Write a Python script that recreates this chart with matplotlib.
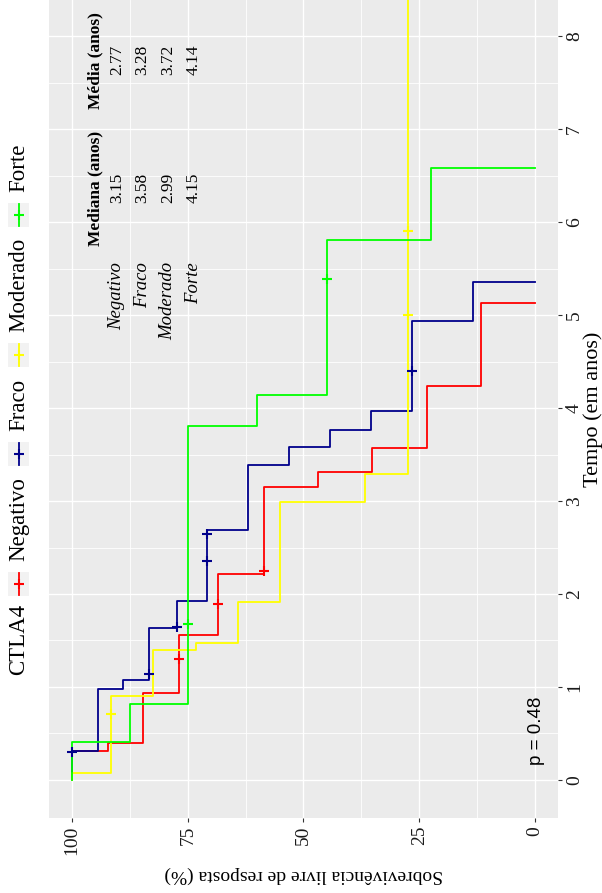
import matplotlib
matplotlib.use("Agg")
import matplotlib.pyplot as plt
from matplotlib.patches import Rectangle

plt.rcParams['font.family'] = ['Liberation Serif', 'DejaVu Serif']

# grupos de CTLA4 e cores das curvas
grupos = ["Negativo", "Fraco", "Moderado", "Forte"]
cores = ["#FF0000", "#00008B", "#FFFF00", "#00FF00"]

# curvas de Kaplan-Meier (tempo em anos, sobrevivência em %)
neg_tempo = [0, 0.315, 0.40, 0.94, 1.56, 2.22, 3.15, 3.31, 3.57, 4.24, 5.13]
neg_surv = [100, 92.3, 84.6, 76.9, 68.4, 58.6, 46.9, 35.2, 23.4, 11.7, 0]
neg_cens_t = [1.30, 1.89, 2.25]
neg_cens_s = [76.9, 68.4, 58.6]

fra_tempo = [0, 0.31, 0.975, 1.075, 1.63, 1.92, 2.69, 3.39, 3.58, 3.76, 3.97, 4.94, 5.36]
fra_surv = [100, 94.4, 88.9, 83.3, 77.4, 70.9, 62.0, 53.2, 44.3, 35.5, 26.6, 13.3, 0]
fra_cens_t = [0.30, 1.14, 1.65, 2.36, 2.65, 4.40]
fra_cens_s = [100, 83.3, 77.4, 70.9, 70.9, 26.6]

mod_tempo = [0, 0.07, 0.90, 1.40, 1.47, 1.91, 2.99, 3.29, 9.0]
mod_surv = [100, 91.7, 82.5, 73.3, 64.2, 55.0, 36.7, 27.5, 27.5]
mod_cens_t = [0.71, 5.0, 5.9]
mod_cens_s = [91.7, 27.5, 27.5]

for_tempo = [0, 0.41, 0.82, 3.81, 4.14, 5.81, 6.58]
for_surv = [100, 87.5, 75, 60, 45, 22.5, 0]
for_cens_t = [1.68, 5.39]
for_cens_s = [75, 45]

# tabela de mediana e média
medianas = ["3.15", "3.58", "2.99", "4.15"]
medias = ["2.77", "3.28", "3.72", "4.14"]

surv_ticks = [100, 75, 50, 25, 0]
tempo_ticks = [0, 1, 2, 3, 4, 5, 6, 7, 8]

W, H = 602, 893
fig = plt.figure(figsize=(W / 100, H / 100), dpi=100)
ax = fig.add_axes([49 / W, 75 / H, 509 / W, 818 / H])
ax.set_facecolor("#EBEBEB")
for s in ax.spines.values():
    s.set_visible(False)

curvas = [
    (neg_tempo, neg_surv, neg_cens_t, neg_cens_s),
    (fra_tempo, fra_surv, fra_cens_t, fra_cens_s),
    (mod_tempo, mod_surv, mod_cens_t, mod_cens_s),
    (for_tempo, for_surv, for_cens_t, for_cens_s),
]
for (t, s, ct, cs), cor in zip(curvas, cores):
    ax.step(s, t, where="pre", color=cor, lw=1.3, zorder=3)
    ax.plot(cs, ct, ls="none", marker="+", ms=7.5, mew=1.5, color=cor, zorder=4)

ax.set_xlim(105, -5)
ax.set_ylim(-0.41, 8.39)
ax.set_xticks(surv_ticks)
ax.set_xticks([87.5, 62.5, 37.5, 12.5], minor=True)
ax.set_yticks(tempo_ticks)
ax.set_yticks([t + 0.5 for t in tempo_ticks[:-1]], minor=True)
ax.set_xticklabels([str(v) for v in surv_ticks], rotation=90)
ax.set_yticklabels([str(v) for v in tempo_ticks], rotation=90, va="center")
ax.yaxis.tick_right()
ax.grid(which="major", color="white", lw=1.0, zorder=0)
ax.grid(which="minor", color="white", lw=0.6, zorder=0)
ax.tick_params(which="major", length=2.7, width=0.8, color="#333333",
               labelsize=14, labelcolor="#1A1A1A", pad=3)
ax.tick_params(which="minor", length=0)
ax.set_axisbelow(True)

# tabela dentro do painel
linhas_s = [90.3, 84.8, 79.3, 73.8]
ax.text(95.0, 6.36, "Mediana (anos)", rotation=90, ha="center", va="center",
        fontsize=12.5, fontweight="bold")
ax.text(95.0, 7.74, "Média (anos)", rotation=90, ha="center", va="center",
        fontsize=12.5, fontweight="bold")
for g, med, mea, s in zip(grupos, medianas, medias, linhas_s):
    ax.text(s, 5.57, g, rotation=90, ha="center", va="top",
            fontsize=13.5, style="italic")
    ax.text(s, 6.37, med, rotation=90, ha="center", va="center", fontsize=12.5)
    ax.text(s, 7.75, mea, rotation=90, ha="center", va="center", fontsize=12.5)

ax.text(-0.4, 0.16, "p = 0.48", rotation=90, ha="center", va="bottom",
        fontsize=13.5, family=["Liberation Sans", "DejaVu Sans"])

# títulos dos eixos
fig.text(593 / W, 1 - 409 / H, "Tempo (em anos)", rotation=90,
         ha="center", va="center", fontsize=16)
fig.text(304 / W, 1 - 875 / H, "Sobrevivência livre de resposta (%)",
         rotation=180, ha="center", va="center", fontsize=14)

# legenda
lax = fig.add_axes([0, 0, 1, 1])
lax.set_xlim(0, W)
lax.set_ylim(H, 0)
lax.axis("off")
lax.text(19, 675, "CTLA4", rotation=90, ha="center", va="bottom", fontsize=16.5)
centros = [584, 454, 355, 215]
for g, cor, c in zip(grupos, cores, centros):
    lax.add_patch(Rectangle((8, c - 12), 21, 24, color="#F2F2F2", lw=0))
    lax.plot([18.5, 18.5], [c - 11, c + 11], color=cor, lw=1.3)
    lax.plot([18.5], [c], marker="+", ms=7.5, mew=1.5, color=cor)
    lax.text(19, c - 23, g, rotation=90, ha="center", va="bottom", fontsize=16.5)

fig.savefig("out.png", dpi=100)
